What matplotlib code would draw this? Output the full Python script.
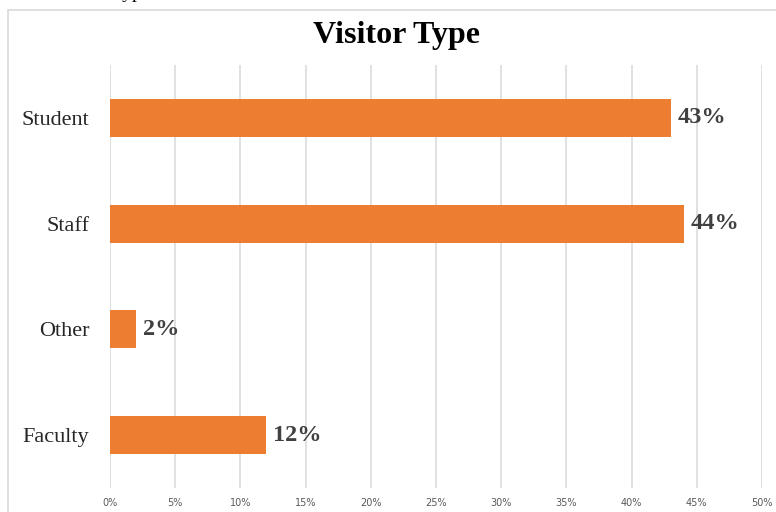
import matplotlib.pyplot as plt
from matplotlib.patches import Rectangle
from matplotlib.ticker import MultipleLocator, FuncFormatter

# visitor breakdown (share of responses)
categories = ["Faculty", "Other", "Staff", "Student"]
shares = [0.12, 0.02, 0.44, 0.43]

W, H = 776, 512
fig = plt.figure(figsize=(W / 100, H / 100), dpi=100)
fig.patch.set_facecolor("white")

# chart area frame
fig.patches.append(Rectangle((8 / W, -0.1), 1.1, 1 - 10 / H + 0.1,
                             transform=fig.transFigure, fill=False,
                             edgecolor="#d9d9d9", linewidth=1.2))

# caption cut off at the top edge
fig.text(150 / W, 1 + 2 / H, "Visitor Type", ha="right", va="baseline",
         fontsize=14, family="Liberation Serif", color="#000000")

ax = fig.add_axes([110 / W, 1 - 488 / H, (762 - 110) / W, (488 - 65) / H])
pos = range(len(categories))
ax.barh(pos, shares, height=0.36, color="#ED7D31", zorder=3)

ax.set_xlim(0, 0.5)
ax.set_ylim(-0.5, 3.5)
ax.xaxis.set_major_locator(MultipleLocator(0.05))
ax.xaxis.set_major_formatter(FuncFormatter(lambda v, p: f"{v * 100:.0f}%"))
ax.grid(axis="x", color="#d9d9d9", linewidth=1.1, zorder=0)
ax.tick_params(axis="x", length=0, pad=7, labelsize=7, labelcolor="#595959")
ax.tick_params(axis="y", length=0, pad=15)
ax.set_yticks(list(pos))
ax.set_yticklabels(categories, family="Liberation Serif", fontsize=16,
                   color="#262626")
for s in ax.spines.values():
    s.set_visible(False)

for i, v in enumerate(shares):
    ax.text(v + 0.005, i, f"{v * 100:.0f}%", va="center", ha="left",
            fontsize=17.5, fontweight="bold", family="Liberation Serif",
            color="#404040")

fig.text(397 / W, 1 - 35 / H, "Visitor Type", ha="center", va="center",
         fontsize=23, fontweight="bold", family="Liberation Serif",
         color="#000000")

fig.savefig("out.png", dpi=100)
